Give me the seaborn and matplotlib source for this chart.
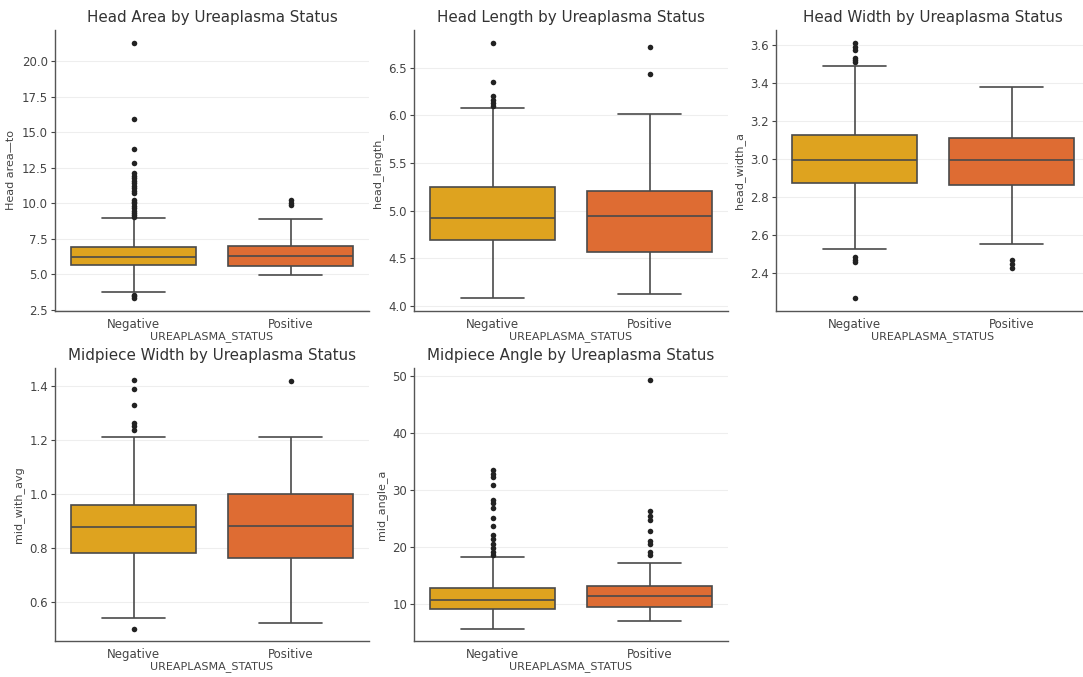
import pandas as pd
import numpy as np
import matplotlib
matplotlib.use("Agg")
import matplotlib.pyplot as plt
import seaborn as sns

# --- values (box stats + fliers per group) ---
groups = ["Negative", "Positive"]
palette = {"Negative": "#dea31f", "Positive": "#de6c33"}

# [whisker low, Q1, median, Q3, whisker high]
head_area_box = {"Negative": [3.73, 5.66, 6.20, 6.95, 8.98],
                 "Positive": [4.95, 5.61, 6.31, 7.02, 8.89]}
head_area_out = {"Negative": [3.31, 3.45, 3.55, 9.05, 9.2, 9.29, 9.45, 9.64, 9.8, 10.0, 10.1, 10.23,
                              10.7, 10.9, 11.05, 11.2, 11.4, 11.6, 11.75, 11.9, 12.1, 12.85, 13.86, 15.97, 21.31],
                 "Positive": [9.87, 10.0, 10.23]}

head_length_box = {"Negative": [4.08, 4.69, 4.92, 5.25, 6.08],
                   "Positive": [4.12, 4.56, 4.94, 5.21, 6.01]}
head_length_out = {"Negative": [6.10, 6.13, 6.16, 6.20, 6.35, 6.76],
                   "Positive": [6.43, 6.72]}

head_width_box = {"Negative": [2.528, 2.876, 2.997, 3.127, 3.49],
                  "Positive": [2.556, 2.862, 2.997, 3.113, 3.38]}
head_width_out = {"Negative": [2.27, 2.46, 2.47, 2.487, 3.51, 3.52, 3.53, 3.57, 3.59, 3.61],
                  "Positive": [2.43, 2.45, 2.47]}

mid_width_box = {"Negative": [0.54, 0.779, 0.876, 0.96, 1.21],
                 "Positive": [0.522, 0.76, 0.88, 1.0, 1.21]}
mid_width_out = {"Negative": [0.50, 1.236, 1.25, 1.263, 1.33, 1.39, 1.42],
                 "Positive": [1.418]}

mid_angle_box = {"Negative": [5.6, 9.0, 10.7, 12.7, 18.1],
                 "Positive": [7.0, 9.4, 11.3, 13.0, 17.1]}
mid_angle_out = {"Negative": [18.5, 19.1, 19.7, 20.5, 21.3, 22.0, 23.6, 25.1, 26.8, 27.7, 28.2,
                              30.8, 32.2, 32.8, 33.4],
                 "Positive": [18.5, 19.1, 20.4, 20.9, 22.8, 24.6, 25.4, 26.2, 49.2]}

panels = [
    ("Head Area by Ureaplasma Status", "Head area\u2014to", head_area_box, head_area_out),
    ("Head Length by Ureaplasma Status", "head_length_", head_length_box, head_length_out),
    ("Head Width by Ureaplasma Status", "head_width_a", head_width_box, head_width_out),
    ("Midpiece Width by Ureaplasma Status", "mid_with_avg", mid_width_box, mid_width_out),
    ("Midpiece Angle by Ureaplasma Status", "mid_angle_a", mid_angle_box, mid_angle_out),
]

sns.set_style("whitegrid")
plt.rcParams['font.family'] = ['DejaVu Sans']

fig = plt.figure(figsize=(10.83, 6.77), dpi=100)
W, H = 1083, 677
# axes rectangles in pixels: left, top, width, bottom
lefts = [55, 414, 776]
rows = [(30, 311), (368, 641)]

for i, (title, ylabel, box, out) in enumerate(panels):
    r, c = divmod(i, 3)
    top, bot = rows[r]
    ax = fig.add_axes([lefts[c] / W, 1 - bot / H, 314 / W, (bot - top) / H])

    core = pd.DataFrame([(g, v) for g in groups for v in box[g]],
                        columns=["UREAPLASMA_STATUS", "value"])
    fl = pd.DataFrame([(g, v) for g in groups for v in out[g]],
                      columns=["UREAPLASMA_STATUS", "value"])

    sns.boxplot(data=core, x="UREAPLASMA_STATUS", y="value", hue="UREAPLASMA_STATUS",
                order=groups, palette=palette, legend=False, whis=(0, 100), saturation=1,
                showfliers=False, width=0.8, linewidth=1.2, linecolor="#4a4a4a", ax=ax)
    sns.stripplot(data=fl, x="UREAPLASMA_STATUS", y="value", order=groups,
                  jitter=False, color="#222222", marker="o", size=4, ax=ax)

    ax.set_title(title, fontsize=10.9, color="#333333")
    ax.set_ylabel(ylabel, fontsize=8, color="#444444")
    ax.set_xlabel("UREAPLASMA_STATUS", fontsize=8, color="#444444", labelpad=0)
    ax.tick_params(axis="both", labelsize=8.5, colors="#444444", length=3, pad=2)
    ax.tick_params(axis="y", left=True)
    ax.grid(axis="x", visible=False)
    ax.grid(axis="y", color="#eeeeee", linewidth=0.8)
    for s in ["top", "right"]:
        ax.spines[s].set_visible(False)
    for s in ["left", "bottom"]:
        ax.spines[s].set_color("#555555")
        ax.spines[s].set_linewidth(1.0)

plt.savefig("out.png", dpi=100)
